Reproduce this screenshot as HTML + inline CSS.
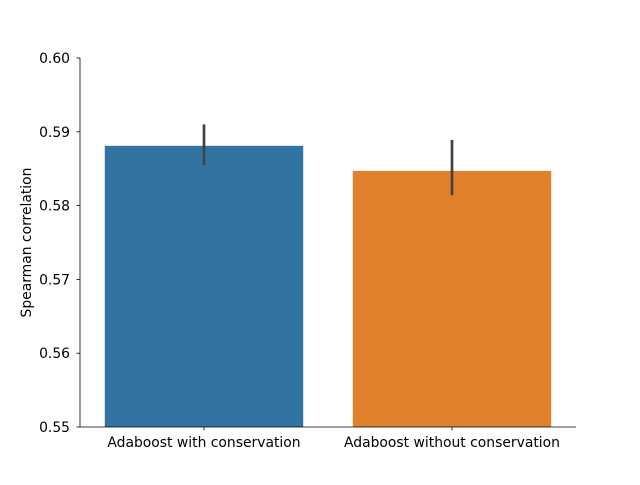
<!DOCTYPE html>
<html><head><meta charset="utf-8"><style>
body{margin:0;background:#fff}
svg text{font-family:"DejaVu Sans","Liberation Sans",sans-serif;font-size:13.9px;fill:#000}
</style></head><body>
<svg id="chart" width="640" height="480">
<g id="bars"></g><g id="axes"></g>
</svg>
<script>
const categories = ["Adaboost with conservation", "Adaboost without conservation"];
const values = [0.5881, 0.5847];
const errLow = [0.5855, 0.5814];
const errHigh = [0.5910, 0.5889];
const colors = ["#3274a1", "#e1812c"];
const yTicks = [0.55, 0.56, 0.57, 0.58, 0.59, 0.60];
const yTickLabels = ["0.55", "0.56", "0.57", "0.58", "0.59", "0.60"];

const L=80,R=576,T=58,B=427,yMin=0.55,yMax=0.60;
const y=v=>B-(v-yMin)/(yMax-yMin)*(B-T);
const band=(R-L)/categories.length;
const xc=i=>L+band*(i+0.5);
const NS="http://www.w3.org/2000/svg";
function mk(tag,attrs,parent){const e=document.createElementNS(NS,tag);for(const k in attrs)e.setAttribute(k,attrs[k]);parent.appendChild(e);return e;}
const bars=document.getElementById('bars'), axes=document.getElementById('axes');
categories.forEach((c,i)=>{
  const w=band*0.8;
  const r=mk('rect',{x:xc(i)-w/2,y:y(values[i]),width:w,height:B-y(values[i]),fill:colors[i]},bars);
  
  
  const l=mk('line',{x1:xc(i),x2:xc(i),y1:y(errLow[i]),y2:y(errHigh[i]),stroke:'#424242','stroke-width':2.7},bars);
  
  
  mk('line',{x1:xc(i),x2:xc(i),y1:B,y2:B+3.5,stroke:'#000','stroke-width':0.8},axes);
  const t=mk('text',{x:xc(i),y:B+20,'text-anchor':'middle'},axes);
  t.textContent=c;
  
  
});
yTicks.forEach((v,i)=>{
  mk('line',{x1:L-3.5,x2:L,y1:y(v),y2:y(v),stroke:'#000','stroke-width':0.8},axes);
  const t=mk('text',{x:L-10,y:y(v)+5,'text-anchor':'end'},axes);
  t.textContent=yTickLabels[i];
  
  
});
const ya=mk('line',{x1:L,x2:L,y1:T,y2:B,stroke:'#000','stroke-width':0.8},axes);


const xa=mk('line',{x1:L,x2:R,y1:B,y2:B,stroke:'#000','stroke-width':0.8},axes);


const yt=mk('text',{x:31,y:(T+B)/2,'text-anchor':'middle',transform:'rotate(-90 31 '+((T+B)/2)+')'},axes);
yt.textContent='Spearman correlation';


</script>
</body></html>
